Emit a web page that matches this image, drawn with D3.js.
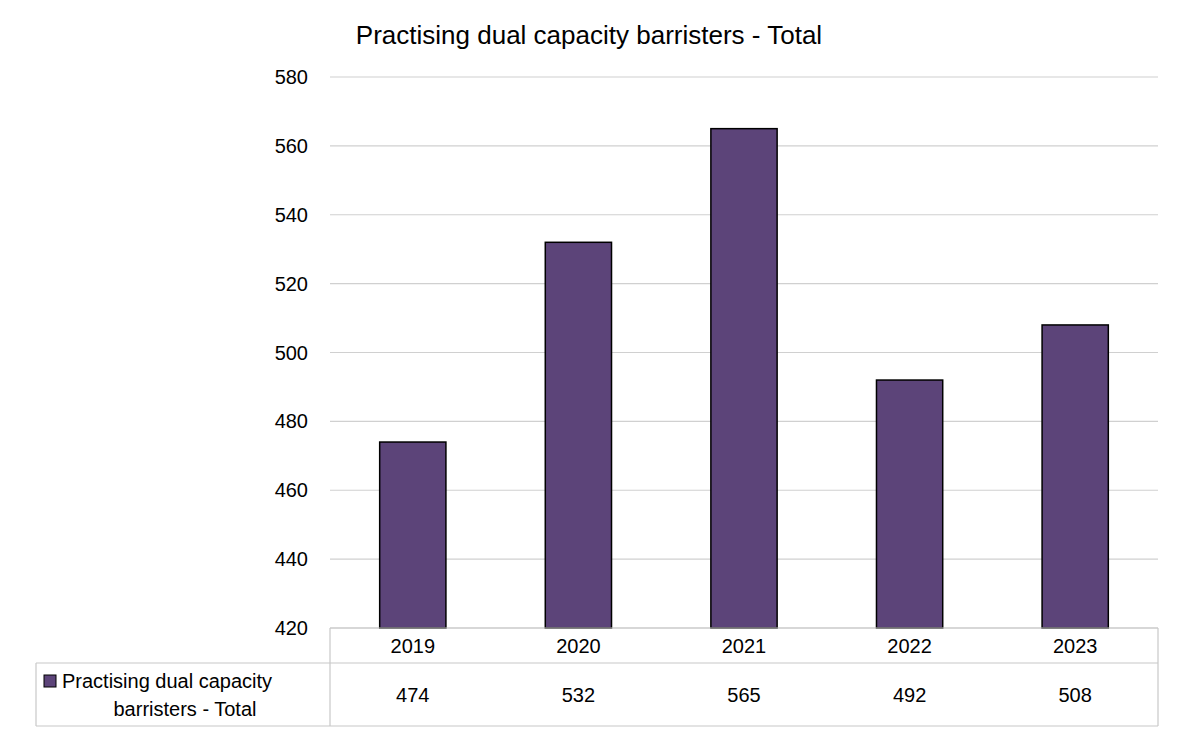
<!DOCTYPE html><html><head><meta charset="utf-8">
<script src="https://cdn.jsdelivr.net/npm/d3@7"></script>
<style>body{margin:0;background:#fff}text{font-family:Arial,"Liberation Sans",sans-serif;fill:#000}</style>
</head><body><svg id="c" width="1181" height="738"></svg>
<script>
const years=["2019","2020","2021","2022","2023"];
const values=[474,532,565,492,508];
const yTicks=[420,440,460,480,500,520,540,560,580];
const seriesName="Practising dual capacity barristers - Total";
const title="Practising dual capacity barristers - Total";

const svg=d3.select("#c");
const L=330,R=1158,T=77,B=628;
const x=d3.scaleBand().domain(years).range([L,R]).paddingInner(0.6).paddingOuter(0.3);
const y=d3.scaleLinear().domain([420,580]).range([B,T]);
const grid="#d0d0d0";
svg.append("g").selectAll("line").data(yTicks).join("line")
 .attr("x1",L).attr("x2",R).attr("y1",d=>y(d)).attr("y2",d=>y(d)).attr("stroke",grid).attr("stroke-width",1.2);
svg.append("g").selectAll("text").data(yTicks).join("text")
 .attr("x",308).attr("y",d=>y(d)+7).attr("text-anchor","end").attr("font-size",20).text(d=>d);
svg.append("g").selectAll("rect").data(values).join("rect")
 .attr("x",(d,i)=>x(years[i])).attr("width",x.bandwidth())
 .attr("y",d=>y(d)).attr("height",d=>B-y(d))
 .attr("fill","#5c4479").attr("stroke","#000").attr("stroke-width",1.5);
svg.append("text").attr("x",589).attr("y",44).attr("text-anchor","middle").attr("font-size",26).text(title);
// data table
const tc="#c8c8c8";
const tl=[[L,B,L,726],[R,B,R,726],[36,663,R,663],[36,726,R,726],[36,663,36,726],[L,B,R,B]];
svg.append("g").selectAll("line").data(tl).join("line")
 .attr("x1",d=>d[0]).attr("y1",d=>d[1]).attr("x2",d=>d[2]).attr("y2",d=>d[3]).attr("stroke",tc).attr("stroke-width",1.2);
const cx=d=>x(d)+x.bandwidth()/2;
svg.append("g").selectAll("text").data(years).join("text")
 .attr("x",cx).attr("y",653).attr("text-anchor","middle").attr("font-size",20).text(d=>d);
svg.append("g").selectAll("text").data(values).join("text")
 .attr("x",(d,i)=>cx(years[i])).attr("y",702).attr("text-anchor","middle").attr("font-size",20).text(d=>d);
svg.append("rect").attr("x",44).attr("y",675).attr("width",12).attr("height",12).attr("fill","#5c4479").attr("stroke","#000");
svg.append("text").attr("x",62).attr("y",688).attr("font-size",20).text("Practising dual capacity");
svg.append("text").attr("x",185).attr("y",716).attr("text-anchor","middle").attr("font-size",20).text("barristers - Total");
</script></body></html>
